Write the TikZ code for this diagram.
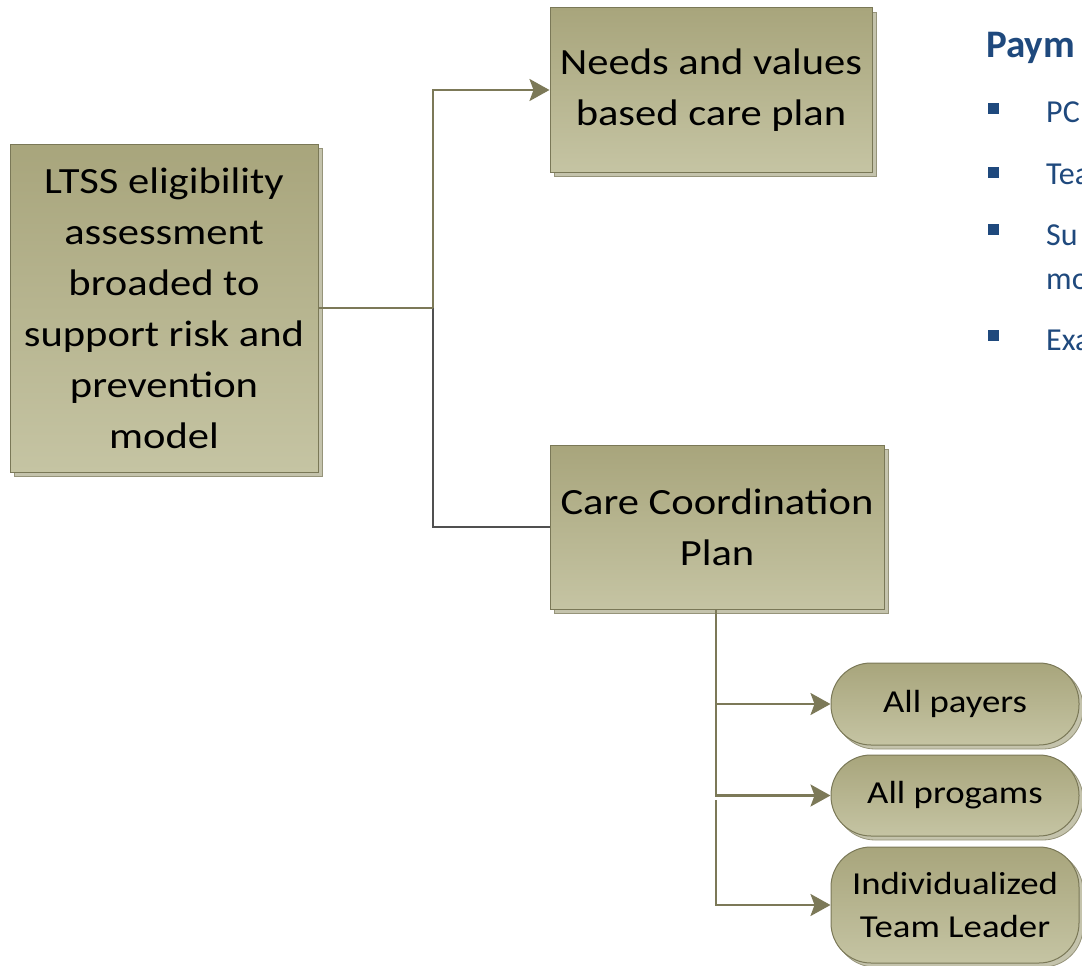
\documentclass[tikz,border=0pt]{standalone}
\usepackage{fontspec}
\setmainfont{Carlito}
\newfontfamily\widefont{Carlito}[FakeStretch=1.15]
\usetikzlibrary{arrows.meta,shadows}
\definecolor{boxtop}{RGB}{168,165,124}
\definecolor{boxbot}{RGB}{197,196,163}
\definecolor{boxline}{RGB}{122,120,87}
\definecolor{shfill}{RGB}{196,195,172}
\definecolor{shline}{RGB}{150,148,122}
\definecolor{conncol}{RGB}{124,121,88}
\definecolor{thincol}{RGB}{80,80,80}
\definecolor{headblue}{RGB}{31,73,125}
\tikzset{
  x=1pt, y=-1pt,
  olivebox/.style={draw=boxline, line width=1pt, top color=boxtop, bottom color=boxbot,
    inner sep=0pt, align=center, text=black,
    copy shadow={shadow xshift=4pt, shadow yshift=-4pt, fill=shfill, draw=shline, line width=0.8pt}},
  bigtext/.style={font=\widefont\fontsize{37}{51}\selectfont},
  pilltext/.style={font=\widefont\fontsize{32}{43}\selectfont},
  pill/.style={olivebox, rounded corners=40pt},
  conn/.style={draw=conncol, line width=2.6pt},
  arr/.style={-{Stealth[length=20pt,width=22pt,inset=4pt]}, conncol},
  thinconn/.style={draw=thincol, line width=1.1pt},
  bullet/.style={fill=headblue, minimum size=11pt, inner sep=0pt},
  listtext/.style={text=headblue, anchor=base west, inner sep=0pt, font=\fontsize{32}{44}\selectfont},
}
\begin{document}
\begin{tikzpicture}
\useasboundingbox (0,0) rectangle (1082,966);
\clip (0,0) rectangle (1082,966);

% boxes
\node[olivebox, bigtext, minimum width=308pt, minimum height=328pt] (ltss) at (164,308)
  {LTSS eligibility\\assessment\\broaded to\\support risk and\\prevention\\model};
\node[olivebox, bigtext, minimum width=322pt, minimum height=164pt] (needs) at (711,90)
  {Needs and values\\based care plan};
\node[olivebox, bigtext, minimum width=334pt, minimum height=164pt] (care) at (717,527)
  {Care Coordination\\Plan};

% pills
\node[pill, pilltext, minimum width=248pt, minimum height=82pt] (payers) at (955,704) {All payers};
\node[pill, pilltext, minimum width=248pt, minimum height=81pt] (progs) at (955,795.5) {All progams};
\node[pill, pilltext, minimum width=248pt, minimum height=116pt] (leader) at (955,905)
  {Individualized\\Team Leader};

% connectors
\coordinate (split) at (433,308);
\coordinate (low) at (716,800);
\draw[thinconn] (split) |- (care.west);
\draw[conn] (ltss.east) -- (split);
\draw[conn, arr] (split) |- (needs.west);
\draw[conn, arr] ([xshift=-1pt]care.south) |- (payers.west);
\draw[conn, arr] ([xshift=-1pt]care.south) |- (progs.west);
\draw[conn, arr] (low) |- (leader.west);

% list on the right
\node[text=headblue, anchor=base west, inner sep=0pt, font=\bfseries\fontsize{39}{44}\selectfont] (head) at (986,58) {Paym};
\node[bullet] (b1) at (993,108) {};
\node[bullet] (b2) at (993,172) {};
\node[bullet] (b3) at (993,229) {};
\node[bullet] (b4) at (993,335) {};
\node[listtext] (t1) at (1046,122) {PC};
\node[listtext] (t2) at (1046,184) {Tea};
\node[listtext] (t3) at (1046,245) {Su};
\node[listtext] (t3b) at (1046,289) {mo};
\node[listtext] (t4) at (1046,350) {Exa};
\end{tikzpicture}
\end{document}
